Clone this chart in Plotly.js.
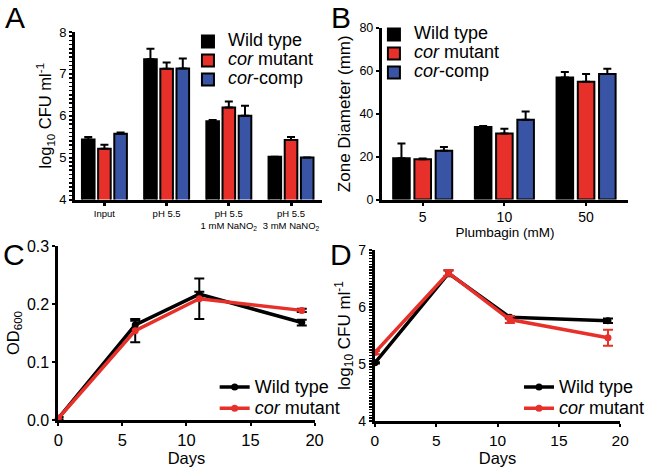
<!DOCTYPE html>
<html>
<head>
<meta charset="utf-8">
<script src="https://cdn.plot.ly/plotly-3.0.1.min.js"></script>
<style>html,body{margin:0;padding:0;background:#fff;}#chart{width:650px;height:470px;}</style>
</head>
<body>
<div id="chart"></div>
<script>
// ---------- DATA ----------
// Panel A
const catsA = ['Input', 'pH 5.5', 'pH 5.5<br>1 mM NaNO<sub>2</sub>', 'pH 5.5<br>3 mM NaNO<sub>2</sub>'];
const wtA = [5.43, 7.35, 5.87, 5.02];
const wtAerr = [0.06, 0.25, 0.03, 0];
const corA = [5.21, 7.12, 6.20, 5.42];
const corAerr = [0.10, 0.15, 0.14, 0.07];
const compA = [5.57, 7.13, 6.00, 5.00];
const compAerr = [0.03, 0.24, 0.24, 0];
// Panel B
const catsB = ['5', '10', '50'];
const wtB = [19.3, 33.8, 56.9];
const wtBerr = [6.8, 0.5, 2.6];
const corB = [18.8, 30.8, 54.9];
const corBerr = [0.3, 2.2, 3.6];
const compB = [22.7, 37.2, 58.5];
const compBerr = [1.8, 3.8, 2.5];
// Panel C
const daysC = [0, 6, 11, 19];
const wtC = [0.003, 0.164, 0.217, 0.168];
const wtCerr = [0.002, 0.007, 0.004, 0.005];
const corC = [0.003, 0.154, 0.209, 0.189];
const corCerr = [0.002, 0.020, 0.035, 0.003];
// Panel D
const daysD = [0, 6, 11, 19];
const wtD = [5.02, 6.59, 5.82, 5.76];
const wtDerr = [0.01, 0.05, 0.02, 0.04];
const corD = [5.20, 6.60, 5.78, 5.46];
const corDerr = [0.03, 0.05, 0.06, 0.14];

const names = ['Wild type', '<i>cor</i> mutant', '<i>cor</i>-comp'];

// ---------- STYLE ----------
const BLACK = '#000000', RED = '#e8302a', BLUE = '#3a54a5';
const FONT = 'Liberation Sans, Arial, sans-serif';
const big = s => '<span style="font-size:18px">' + s + '</span>';
const zeros = a => a.map(() => 0);

function barTrace(x, y, err, name, color, xa, ya, leg) {
  return {
    type: 'bar', x: x, y: y, name: big(name), xaxis: xa, yaxis: ya, legend: leg,
    marker: {color: color, line: {color: BLACK, width: 2}},
    error_y: {type: 'data', array: err, arrayminus: zeros(err), symmetric: false,
              color: BLACK, thickness: 2, width: 4},
    cliponaxis: false
  };
}
function lineTrace(x, y, err, name, color, errColor, xa, ya, leg) {
  return {
    type: 'scatter', mode: 'lines+markers', x: x, y: y, name: big(name),
    xaxis: xa, yaxis: ya, legend: leg,
    line: {color: color, width: 3.5}, marker: {color: color, size: 7},
    error_y: {type: 'data', array: err, color: errColor, thickness: 2, width: 5},
    cliponaxis: false
  };
}

const traces = [
  barTrace(catsA, wtA, wtAerr, names[0], BLACK, 'x', 'y', 'legend'),
  barTrace(catsA, corA, corAerr, names[1], RED, 'x', 'y', 'legend'),
  barTrace(catsA, compA, compAerr, names[2], BLUE, 'x', 'y', 'legend'),
  barTrace(catsB, wtB, wtBerr, names[0], BLACK, 'x2', 'y2', 'legend2'),
  barTrace(catsB, corB, corBerr, names[1], RED, 'x2', 'y2', 'legend2'),
  barTrace(catsB, compB, compBerr, names[2], BLUE, 'x2', 'y2', 'legend2'),
  lineTrace(daysC, wtC, wtCerr, names[0], BLACK, BLACK, 'x3', 'y3', 'legend3'),
  lineTrace(daysC, corC, corCerr, names[1], RED, BLACK, 'x3', 'y3', 'legend3'),
  lineTrace(daysD, wtD, wtDerr, names[0], BLACK, BLACK, 'x4', 'y4', 'legend4'),
  lineTrace(daysD, corD, corDerr, names[1], RED, RED, 'x4', 'y4', 'legend4')
];

const W = 650, H = 470;
const px = v => v / W, py = v => 1 - v / H;

function axisBase(extra) {
  return Object.assign({
    showline: true, linecolor: BLACK, linewidth: 3, mirror: false,
    showgrid: false, zeroline: false, ticks: 'outside', tickcolor: BLACK,
    tickwidth: 2, ticklen: 4, fixedrange: true,
    tickfont: {family: FONT, size: 12, color: BLACK}
  }, extra);
}
function legendBase(x, y, size) {
  return {x: x, y: y, xref: 'paper', yref: 'paper', xanchor: 'left', yanchor: 'top',
          bgcolor: 'rgba(0,0,0,0)', borderwidth: 0,
          font: {family: FONT, size: size, color: BLACK}};
}

const layout = {
  width: W, height: H, margin: {l: 0, r: 0, t: 0, b: 0},
  paper_bgcolor: '#ffffff', plot_bgcolor: '#ffffff',
  font: {family: FONT, color: BLACK},
  barmode: 'group', bargap: 0.22, bargroupgap: 0.22,
  showlegend: true,
  // Panel A
  xaxis: axisBase({domain: [px(76), px(325)], anchor: 'y', type: 'category',
    range: [-0.47, 3.49], ticklen: 3, tickwidth: 3,
    tickfont: {family: FONT, size: 9.5, color: BLACK}}),
  yaxis: axisBase({domain: [py(199.5), py(32)], anchor: 'x', range: [4, 8], dtick: 1,
    ticklen: 3, tickfont: {family: FONT, size: 13, color: BLACK},
    minor: {dtick: 0.1, ticks: 'outside', ticklen: 3, tickwidth: 1.5, tickcolor: BLACK},
    title: {text: 'log<sub>10</sub> CFU ml<sup>-1</sup>', font: {family: FONT, size: 16.5}, standoff: 4}}),
  // Panel B
  xaxis2: axisBase({domain: [px(386), px(635)], anchor: 'y2', type: 'category',
    range: [-0.5, 2.515], ticklen: 3, tickfont: {family: FONT, size: 14, color: BLACK},
    title: {text: 'Plumbagin (mM)', font: {family: FONT, size: 13.5}, standoff: 0}}),
  yaxis2: axisBase({domain: [py(199.5), py(28)], anchor: 'x2', range: [0, 80], dtick: 20,
    ticklen: 3, tickfont: {family: FONT, size: 12.5, color: BLACK},
    title: {text: 'Zone Diameter (mm)', font: {family: FONT, size: 17}, standoff: 5}}),
  // Panel C
  xaxis3: axisBase({domain: [px(59), px(318)], anchor: 'y3', range: [0, 20], dtick: 5,
    ticklen: 3, tickfont: {family: FONT, size: 16.5, color: BLACK},
    title: {text: 'Days', font: {family: FONT, size: 16.5}, standoff: 0}}),
  yaxis3: axisBase({domain: [py(420), py(246)], anchor: 'x3', range: [0, 0.3], dtick: 0.1,
    tickformat: '.1f', ticklen: 3, tickfont: {family: FONT, size: 16, color: BLACK},
    title: {text: 'OD<sub>600</sub>', font: {family: FONT, size: 16.5}, standoff: 4}}),
  // Panel D
  xaxis4: axisBase({domain: [px(379), px(627)], anchor: 'y4', range: [0, 20], dtick: 5,
    ticklen: 3, tickfont: {family: FONT, size: 15.5, color: BLACK},
    title: {text: 'Days', font: {family: FONT, size: 16.5}, standoff: 0}}),
  yaxis4: axisBase({domain: [py(421), py(250)], anchor: 'x4', range: [4, 7], dtick: 1,
    ticklen: 3, tickfont: {family: FONT, size: 14, color: BLACK},
    minor: {dtick: 0.05, ticks: 'outside', ticklen: 3, tickwidth: 1.5, tickcolor: BLACK},
    title: {text: 'log<sub>10</sub> CFU ml<sup>-1</sup>', font: {family: FONT, size: 17}, standoff: 4}}),
  legend: legendBase(px(190), py(27), 11),
  legend2: legendBase(px(378), py(20), 11),
  legend3: legendBase(px(217), py(371.5), 14),
  legend4: legendBase(px(525), py(371.5), 14),
  annotations: [
    {text: 'A', x: px(15), y: py(18)},
    {text: 'B', x: px(345), y: py(17)},
    {text: 'C', x: px(14), y: py(255)},
    {text: 'D', x: px(345), y: py(255)}
  ].map(a => Object.assign(a, {xref: 'paper', yref: 'paper', xanchor: 'center', yanchor: 'middle',
    showarrow: false, font: {family: FONT, size: 30, color: BLACK}}))
};

Plotly.newPlot('chart', traces, layout, {staticPlot: true, displayModeBar: false});
</script>
</body>
</html>
